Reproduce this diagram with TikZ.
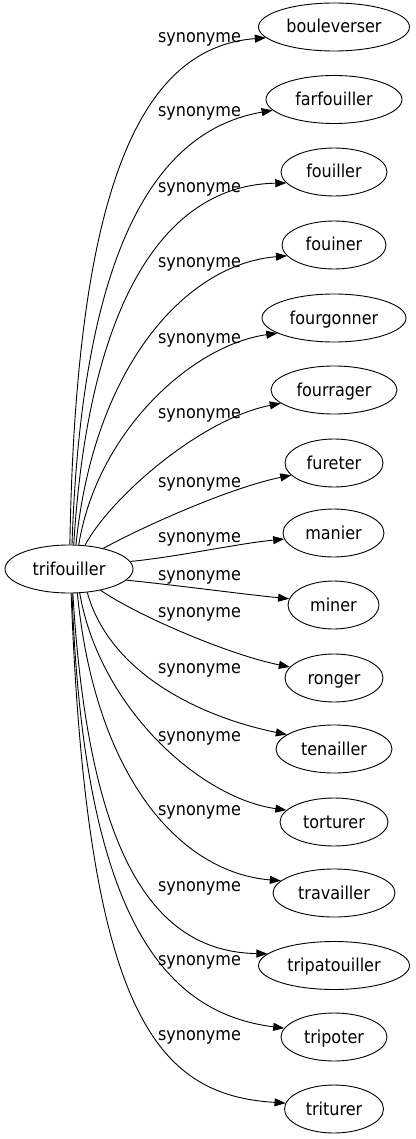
\documentclass[tikz,border=0pt]{standalone}
\usepackage{fontspec}
\setmainfont{DejaVu Sans Condensed}
\usetikzlibrary{shapes.geometric,arrows.meta}
\begin{document}
\begin{tikzpicture}[x=1pt,y=-1pt,
  every node/.style={font=\fontsize{17.8}{20}\selectfont, text=black},
  term/.style={draw, ellipse, inner sep=0pt, minimum height=48pt,
    text height=14pt, text depth=2pt, line width=0.9pt},
  lab/.style={anchor=base, inner sep=0pt},
  conn/.style={draw, line width=0.9pt, -{Triangle[length=11pt,width=8pt]}}]
\useasboundingbox (0,0) rectangle (415,1139);
\node[term, minimum width=128pt] (s) at (69,569) {trifouiller};
\node[term, minimum width=151pt] (t0) at (334,27) {bouleverser};
\node[term, minimum width=136pt] (t1) at (334,99.5) {farfouiller};
\node[term, minimum width=106pt] (t2) at (334,172) {fouiller};
\node[term, minimum width=104pt] (t3) at (334,245) {fouiner};
\node[term, minimum width=144pt] (t4) at (334,318) {fourgonner};
\node[term, minimum width=126pt] (t5) at (334,390) {fourrager};
\node[term, minimum width=98pt] (t6) at (334,463) {fureter};
\node[term, minimum width=101pt] (t7) at (333.5,533) {manier};
\node[term, minimum width=91pt] (t8) at (333.5,605) {miner};
\node[term, minimum width=98pt] (t9) at (334,678) {ronger};
\node[term, minimum width=116pt] (t10) at (334,749) {tenailler};
\node[term, minimum width=108pt] (t11) at (334,822) {torturer};
\node[term, minimum width=122pt] (t12) at (334,893) {travailler};
\node[term, minimum width=151pt] (t13) at (334,965.5) {tripatouiller};
\node[term, minimum width=106pt] (t14) at (334,1037) {tripoter};
\node[term, minimum width=99pt] (t15) at (334,1109) {triturer};
\node[lab] (l0) at (199.5,43) {synonyme};
\node[lab] (l1) at (199.5,117) {synonyme};
\node[lab] (l2) at (199.5,193) {synonyme};
\node[lab] (l3) at (199.5,268) {synonyme};
\node[lab] (l4) at (199.5,343) {synonyme};
\node[lab] (l5) at (199.5,418) {synonyme};
\node[lab] (l6) at (199.5,487) {synonyme};
\node[lab] (l7) at (199.5,542) {synonyme};
\node[lab] (l8) at (199.5,580) {synonyme};
\node[lab] (l9) at (199.5,617) {synonyme};
\node[lab] (l10) at (199.5,673) {synonyme};
\node[lab] (l11) at (199.5,741) {synonyme};
\node[lab] (l12) at (199.5,815) {synonyme};
\node[lab] (l13) at (199.5,891) {synonyme};
\node[lab] (l14) at (199.5,965) {synonyme};
\node[lab] (l15) at (199.5,1040) {synonyme};
\draw[conn] (s.88) .. controls +(6,-346) and +(-130,10) .. (t0.189);
\draw[conn] (s.83) .. controls +(10,-296) and +(-117,20) .. (t1.190);
\draw[conn] (s.79) .. controls +(15,-246) and +(-120,2) .. (t2.193);
\draw[conn] (s.74) .. controls +(18,-180) and +(-100,8) .. (t3.193);
\draw[conn] (s.68) .. controls +(18,-112) and +(-86,12) .. (t4.195);
\draw[conn] (s.56) .. controls +(25,-47) and +(-81,16) .. (t5.194);
\draw[conn] (s.31) .. controls +(40,-22) and +(-60,12) .. (t6.196);
\draw[conn] (s.7) .. controls +(50,-5) and +(-50,5) .. (t7.187);
\draw[conn] (s.349) .. controls +(50,5) and +(-50,-5) .. (t8.172);
\draw[conn] (s.326) .. controls +(38,26) and +(-60,-12) .. (t9.166);
\draw[conn] (s.308) .. controls +(22,80) and +(-88,-18) .. (t10.163);
\draw[conn] (s.294) .. controls +(20,115) and +(-86,-12) .. (t11.166);
\draw[conn] (s.289) .. controls +(18,185) and +(-100,-8) .. (t12.167);
\draw[conn] (s.279) .. controls +(15,250) and +(-120,-2) .. (t13.170);
\draw[conn] (s.277) .. controls +(12,330) and +(-117,-15) .. (t14.170);
\draw[conn] (s.275) .. controls +(16,420) and +(-130,-8) .. (t15.173);
\end{tikzpicture}
\end{document}
